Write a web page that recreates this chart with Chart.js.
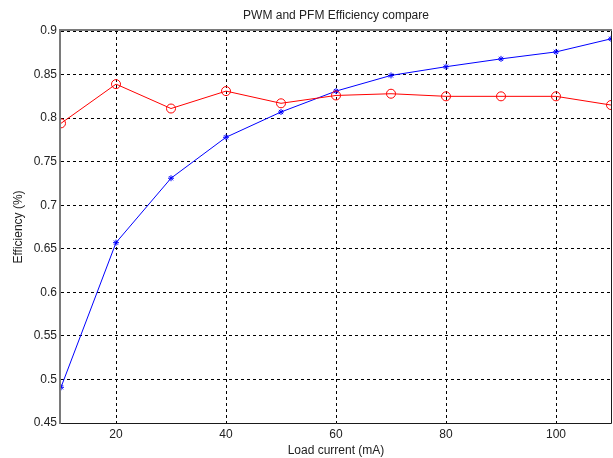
<!DOCTYPE html>
<html>
<head>
<meta charset="utf-8">
<script src="https://cdn.jsdelivr.net/npm/chart.js@4"></script>
<style>
  html, body { margin: 0; padding: 0; background: #ffffff; }
  #wrap { width: 613px; height: 458px; }
</style>
</head>
<body>
<div id="wrap"><canvas id="chartEff" width="613" height="458"></canvas></div>
<script>
// Load current (mA)
const loadCurrent = [10, 20, 30, 40, 50, 60, 70, 80, 90, 100, 110];
// PFM efficiency (red, circles)
const pfmEff = [0.794, 0.839, 0.811, 0.831, 0.817, 0.826, 0.828, 0.825, 0.825, 0.825, 0.815];
// PWM efficiency (blue, stars)
const pwmEff = [0.491, 0.657, 0.731, 0.778, 0.807, 0.831, 0.849, 0.859, 0.868, 0.876, 0.891];
const xTicks = [20, 40, 60, 80, 100];
const yTicks = [0.45, 0.5, 0.55, 0.6, 0.65, 0.7, 0.75, 0.8, 0.85, 0.9];

const FONT = { family: '"Liberation Sans", Arial, sans-serif', size: 12 };
const TEXT = '#222222';

// cadre de l'axe + titre centré sur la zone de tracé (style MATLAB)
const boxPlugin = {
    id: 'boxTitle',
    afterDraw(chart) {
        const { ctx, chartArea: a } = chart;
        ctx.save();
        ctx.lineWidth = 1;
        ctx.strokeStyle = '#1a1a1a';
        ctx.beginPath();
        ctx.moveTo(a.left, a.bottom + 0.5);
        ctx.lineTo(a.right + 0.5, a.bottom + 0.5);
        ctx.lineTo(a.right + 0.5, a.top);
        ctx.stroke();
        ctx.lineWidth = 2;
        ctx.strokeStyle = '#7a7a7a';
        ctx.beginPath();
        ctx.moveTo(a.left - 1, a.bottom + 1);
        ctx.lineTo(a.left - 1, a.top - 1);
        ctx.lineTo(a.right + 1, a.top - 1);
        ctx.stroke();
        ctx.fillStyle = TEXT;
        ctx.font = `${FONT.size}px ${FONT.family}`;
        ctx.textAlign = 'center';
        ctx.textBaseline = 'middle';
        ctx.fillText('PWM and PFM Efficiency compare', (a.left + a.right) / 2, 16);
        ctx.restore();
    }
};

new Chart(document.getElementById('chartEff'), {
    type: 'line',
    data: {
        labels: loadCurrent,
        datasets: [
            {
                label: 'PFM',
                data: loadCurrent.map((x, i) => ({ x: x, y: pfmEff[i] })),
                borderColor: '#ff0000',
                borderWidth: 1,
                pointStyle: 'circle',
                pointRadius: 4.5,
                pointBorderColor: '#ff0000',
                pointBackgroundColor: 'rgba(0,0,0,0)',
                pointBorderWidth: 1,
                tension: 0
            },
            {
                label: 'PWM',
                data: loadCurrent.map((x, i) => ({ x: x, y: pwmEff[i] })),
                borderColor: '#0000ff',
                borderWidth: 1,
                pointStyle: 'star',
                pointRadius: 3,
                pointBorderColor: '#0000ff',
                pointBorderWidth: 1,
                tension: 0
            }
        ]
    },
    options: {
        responsive: false,
        animation: false,
        layout: { autoPadding: false, padding: { top: 31, right: 2, left: 0, bottom: 0 } },
        plugins: {
            legend: { display: false },
            title: { display: false },
            tooltip: { enabled: false }
        },
        scales: {
            x: {
                type: 'linear',
                min: 10, max: 110,
                afterBuildTicks: (s) => { s.ticks = xTicks.map(v => ({ value: v })); },
                afterFit: (s) => { s.height = 35; s.paddingLeft = 0; s.paddingRight = 0; },
                grid: { color: '#000000', lineWidth: 1, drawTicks: false },
                border: { display: false, dash: [3, 3] },
                ticks: { color: TEXT, font: FONT, padding: 4, maxRotation: 0 },
                title: { display: true, text: 'Load current (mA)', color: TEXT, font: FONT, padding: { top: 1, bottom: 0 } }
            },
            y: {
                min: 0.45, max: 0.9,
                afterBuildTicks: (s) => { s.ticks = yTicks.map(v => ({ value: v })); },
                afterFit: (s) => { s.width = 61; s.paddingTop = 0; s.paddingBottom = 0; },
                grid: { color: '#000000', lineWidth: 1, drawTicks: false },
                border: { display: false, dash: [3, 3] },
                ticks: { color: TEXT, font: FONT, padding: 4, callback: (v) => String(+v.toFixed(2)) },
                title: { display: true, text: 'Efficiency (%)', color: TEXT, font: FONT, padding: { top: 11, bottom: 4 } }
            }
        }
    },
    plugins: [boxPlugin]
});
</script>
</body>
</html>
